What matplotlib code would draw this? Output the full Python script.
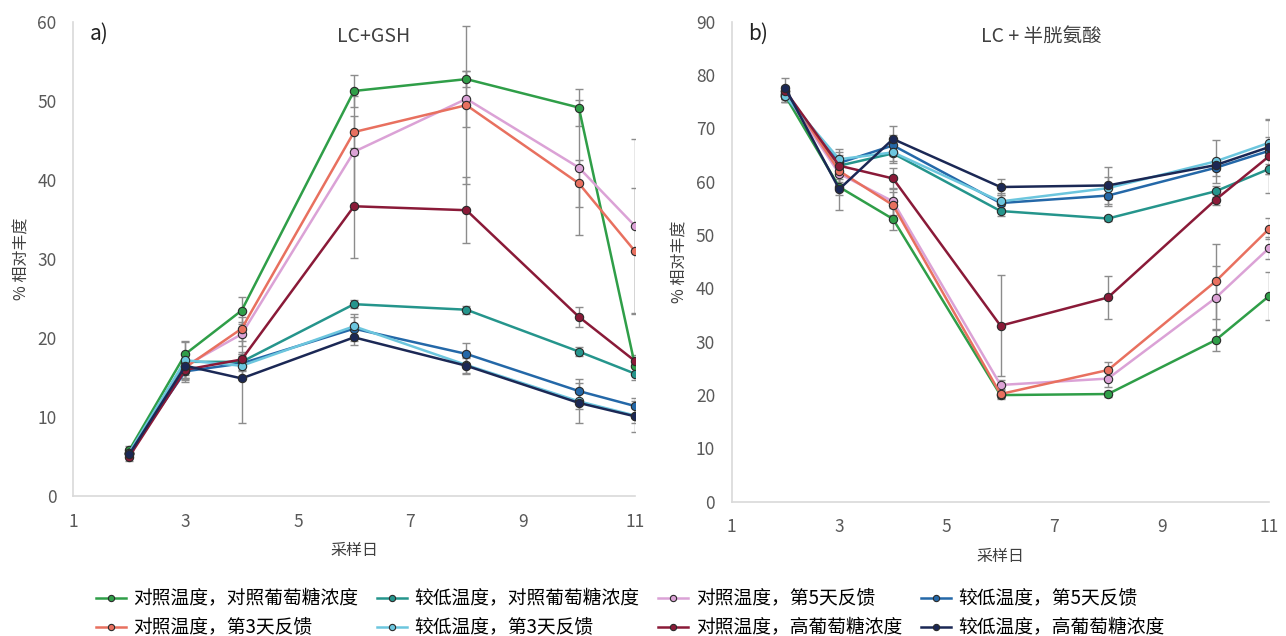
import matplotlib
matplotlib.use('Agg')
import matplotlib.pyplot as plt
import numpy as np

plt.rcParams['font.family'] = ['Noto Sans CJK SC', 'DejaVu Sans']

# sampling days
days = [2, 3, 4, 6, 8, 10, 11]

names = ['对照温度，对照葡萄糖浓度', '较低温度，对照葡萄糖浓度', '对照温度，第5天反馈', '较低温度，第5天反馈',
         '对照温度，第3天反馈', '较低温度，第3天反馈', '对照温度，高葡萄糖浓度', '较低温度，高葡萄糖浓度']

# a) LC+GSH
gsh_ctrl_ctrl = [5.8, 18.0, 23.5, 51.3, 52.8, 49.2, 16.5]
gsh_low_ctrl = [5.5, 17.0, 17.0, 24.3, 23.6, 18.3, 15.5]
gsh_ctrl_d5 = [5.5, 16.5, 20.5, 43.6, 50.3, 41.6, 34.2]
gsh_low_d5 = [5.5, 15.8, 16.8, 21.2, 18.0, 13.3, 11.4]
gsh_ctrl_d3 = [5.3, 16.3, 21.2, 46.1, 49.5, 39.6, 31.0]
gsh_low_d3 = [5.5, 17.2, 16.5, 21.5, 16.6, 12.0, 10.2]
gsh_ctrl_hi = [5.0, 16.0, 17.3, 36.7, 36.2, 22.7, 17.1]
gsh_low_hi = [5.3, 16.5, 14.9, 20.1, 16.5, 11.8, 10.1]

gsh_err_ctrl_ctrl = [0.5, 1.5, 1.7, 2.0, 1.0, 2.3, 1.0]
gsh_err_low_ctrl = [0.5, 1.0, 1.0, 0.5, 0.5, 0.6, 0.8]
gsh_err_ctrl_d5 = [0.5, 1.5, 1.5, 7.0, 3.5, 8.5, 11.0]
gsh_err_low_d5 = [0.5, 1.0, 1.0, 1.5, 1.4, 1.5, 1.0]
gsh_err_ctrl_d3 = [0.5, 1.0, 1.5, 2.0, 10.0, 3.0, 8.0]
gsh_err_low_d3 = [0.5, 2.5, 1.5, 1.5, 1.0, 1.0, 1.0]
gsh_err_ctrl_hi = [0.5, 1.5, 1.0, 6.5, 4.2, 1.3, 0.8]
gsh_err_low_hi = [0.5, 1.5, 5.7, 1.0, 1.0, 2.5, 2.0]

# b) LC + 半胱氨酸
cys_ctrl_ctrl = [76.0, 59.0, 53.0, 20.0, 20.2, 30.3, 38.6]
cys_low_ctrl = [76.0, 63.0, 65.3, 54.5, 53.1, 58.2, 62.4]
cys_ctrl_d5 = [76.5, 61.5, 56.3, 21.9, 23.1, 38.2, 47.6]
cys_low_d5 = [76.5, 63.5, 66.8, 56.0, 57.4, 62.6, 65.8]
cys_ctrl_d3 = [77.0, 62.0, 55.6, 20.2, 24.7, 41.3, 51.2]
cys_low_d3 = [76.0, 64.2, 65.5, 56.3, 58.8, 63.8, 67.3]
cys_ctrl_hi = [77.0, 63.0, 60.6, 33.0, 38.3, 56.6, 64.8]
cys_low_hi = [77.5, 58.6, 68.0, 59.0, 59.3, 63.1, 66.5]

cys_err_ctrl_ctrl = [1.0, 1.5, 2.0, 0.5, 0.5, 2.0, 4.5]
cys_err_low_ctrl = [1.0, 1.5, 1.5, 1.0, 0.5, 1.0, 1.0]
cys_err_ctrl_d5 = [1.0, 2.0, 2.5, 1.0, 1.5, 6.0, 2.0]
cys_err_low_d5 = [1.0, 2.0, 2.0, 1.5, 2.0, 1.5, 1.0]
cys_err_ctrl_d3 = [1.0, 2.0, 2.5, 1.0, 1.5, 7.0, 2.0]
cys_err_low_d3 = [1.0, 2.0, 2.0, 1.5, 2.0, 4.0, 1.0]
cys_err_ctrl_hi = [1.0, 2.0, 2.0, 9.5, 4.0, 1.0, 7.0]
cys_err_low_hi = [2.0, 4.0, 2.5, 1.5, 3.5, 1.0, 5.0]

colors = ['#2f9e48', '#25958c', '#dba2d6', '#2468a8', '#e8705f', '#6cc6de', '#8a1a38', '#1b2855']

gsh = [gsh_ctrl_ctrl, gsh_low_ctrl, gsh_ctrl_d5, gsh_low_d5, gsh_ctrl_d3, gsh_low_d3, gsh_ctrl_hi, gsh_low_hi]
gsh_err = [gsh_err_ctrl_ctrl, gsh_err_low_ctrl, gsh_err_ctrl_d5, gsh_err_low_d5,
           gsh_err_ctrl_d3, gsh_err_low_d3, gsh_err_ctrl_hi, gsh_err_low_hi]
cys = [cys_ctrl_ctrl, cys_low_ctrl, cys_ctrl_d5, cys_low_d5, cys_ctrl_d3, cys_low_d3, cys_ctrl_hi, cys_low_hi]
cys_err = [cys_err_ctrl_ctrl, cys_err_low_ctrl, cys_err_ctrl_d5, cys_err_low_d5,
           cys_err_ctrl_d3, cys_err_low_d3, cys_err_ctrl_hi, cys_err_low_hi]

fig = plt.figure(figsize=(12.86, 6.36), dpi=100)
ax1 = fig.add_axes([0.0568, 0.22, 0.437, 0.745])
ax2 = fig.add_axes([0.569, 0.211, 0.418, 0.755])

def draw(ax, data, errs, ymax, panel, title, title_x):
    handles = []
    for vals, err, c in zip(data, errs, colors):
        ax.errorbar(days, vals, yerr=err, fmt='none', ecolor='#8c8c8c', elinewidth=1, capsize=3, zorder=1)
    for vals, c in zip(data, colors):
        h, = ax.plot(days, vals, color=c, lw=1.8, marker='o', ms=6, mfc=c,
                     mec='#2a2a2a', mew=0.8, zorder=3)
        handles.append(h)
    ax.set_xlim(1, 11)
    ax.set_ylim(0, ymax)
    ax.set_xticks([1, 3, 5, 7, 9, 11])
    ax.set_yticks(np.arange(0, ymax + 1, 10))
    for s in ['top', 'right']:
        ax.spines[s].set_visible(False)
    for s in ['left', 'bottom']:
        ax.spines[s].set_color('#d9d9d9')
        ax.spines[s].set_linewidth(1.2)
    ax.tick_params(length=0, labelsize=12.5, colors='#595959', pad=12)
    ax.set_xlabel('采样日', fontsize=11.5, color='#404040', labelpad=8)
    ax.set_ylabel('% 相对丰度', fontsize=11.5, color='#404040', labelpad=6)
    ax.text(0.03, 0.975, panel, transform=ax.transAxes, fontsize=15, color='#222222', va='center')
    ax.text(title_x, 0.97, title, transform=ax.transAxes, fontsize=14, color='#404040',
            ha='center', va='center')
    ax.set_clip_on(False)
    return handles

h = draw(ax1, gsh, gsh_err, 60, 'a)', 'LC+GSH', 0.535)
draw(ax2, cys, cys_err, 90, 'b)', 'LC + 半胱氨酸', 0.575)
ax1.yaxis.set_label_coords(-0.075, 0.5)
ax2.yaxis.set_label_coords(-0.08, 0.5)

# legend: row-major order as in the figure
order = [0, 4, 1, 5, 2, 6, 3, 7]
fig.legend([h[i] for i in order], [names[i] for i in order], ncol=4, loc='lower center',
           bbox_to_anchor=(0.49, -0.03), frameon=False, fontsize=13.5, handlelength=1.6,
           columnspacing=1.0, handletextpad=0.4, labelspacing=0.42, markerscale=0.75)

fig.savefig('out.png', dpi=100)
